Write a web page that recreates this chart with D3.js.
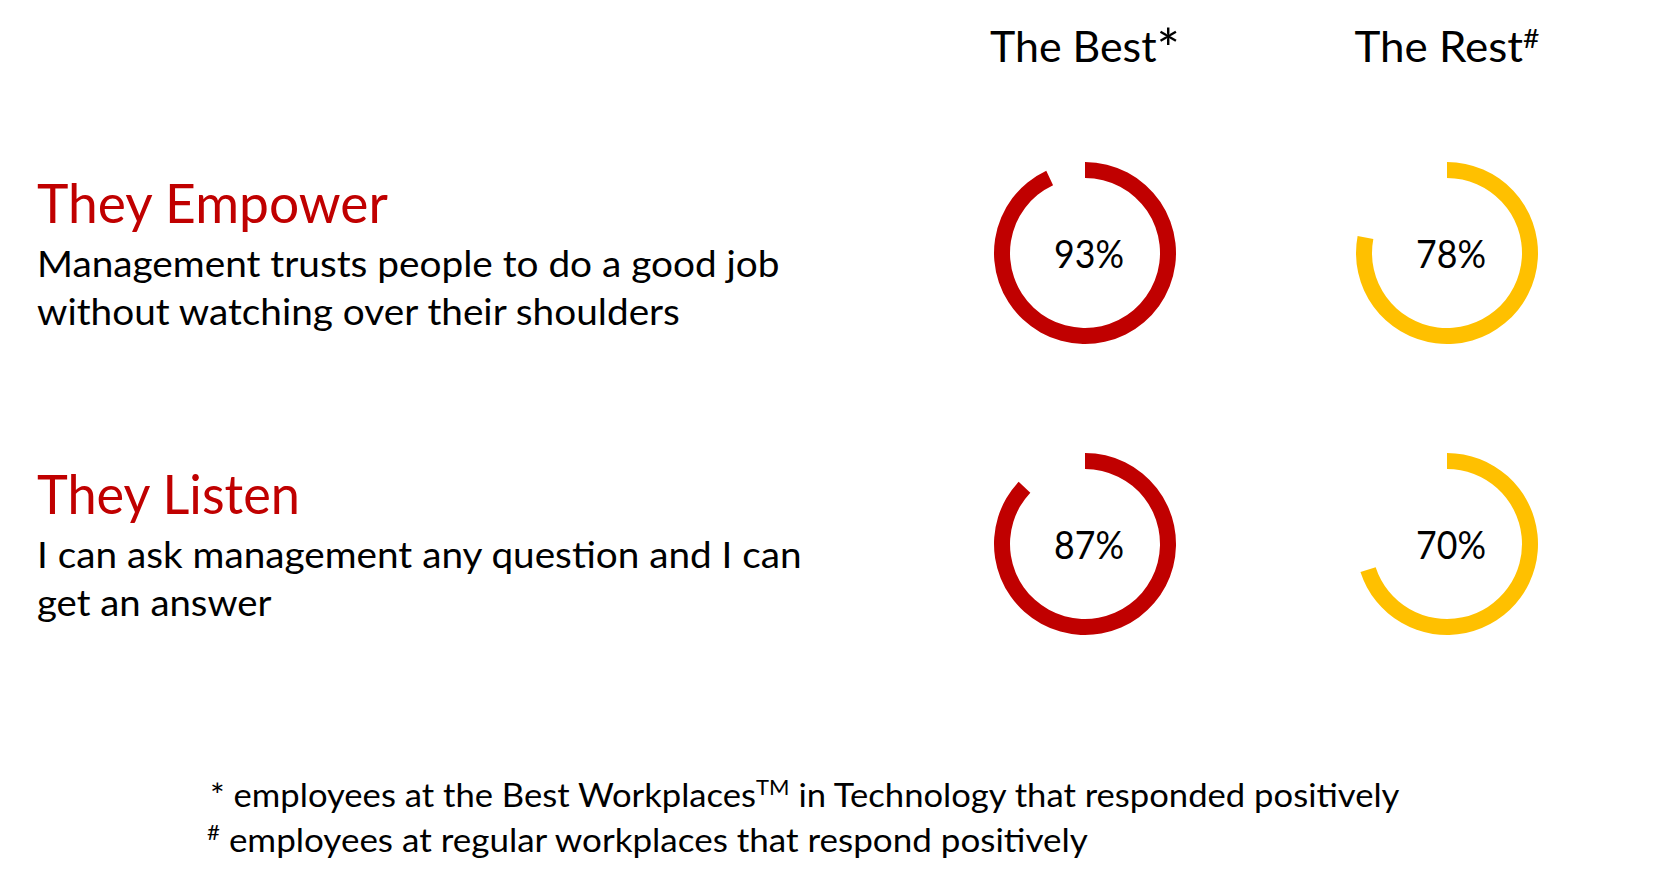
<!DOCTYPE html>
<html>
<head>
<meta charset="utf-8">
<script src="https://cdn.jsdelivr.net/npm/d3@7"></script>
<style>
  html, body { margin: 0; padding: 0; background: #ffffff; }
  svg { display: block; }
  text { font-family: Lato, "Open Sans", sans-serif; }
</style>
</head>
<body>
<svg id="chart" width="1654" height="886"></svg>
<script>
// ---- data ----
const groups = ["The Best", "The Rest"];
const groupMarks = ["*", "#"];
const categories = ["They Empower", "They Listen"];
const descriptions = [
  ["Management trusts people to do a good job", "without watching over their shoulders"],
  ["I can ask management any question and I can", "get an answer"]
];
const bestValues = [93, 87];
const restValues = [78, 70];
const footnoteBest = ["* employees at the Best Workplaces", "TM", " in Technology that responded positively"];
const footnoteRest = ["#", " employees at regular workplaces that respond positively"];

function draw() {
  const svg = d3.select("#chart");
  const RED = "#C00000", YELLOW = "#FFC000";
  const colors = d3.scaleOrdinal().domain(groups).range([RED, YELLOW]);

  const x = d3.scalePoint().domain(groups).range([1085, 1447]);
  const y = d3.scalePoint().domain(categories).range([253, 544]);
  const angle = d3.scaleLinear().domain([0, 100]).range([0, 2 * Math.PI]);
  const arc = d3.arc().innerRadius(75).outerRadius(91).startAngle(0);

  // helper: squeeze text horizontally to a target width around anchor x
  function fit(sel, ax, target) {
    const w = sel.node().getBBox().width;
    const k = target / w;
    sel.attr("transform", `translate(${ax},0) scale(${k},1) translate(${-ax},0)`);
  }

  // column headers
  groups.forEach((g, i) => {
    const t = svg.append("text")
      .attr("x", x(g)).attr("y", 62)
      .attr("text-anchor", "middle")
      .attr("font-size", 42).attr("fill", "#000");
    t.append("tspan").text(g);
    if (i === 0) {
      t.append("tspan").attr("font-size", 54).attr("dy", 6).text(groupMarks[i]);
    } else {
      t.append("tspan").attr("font-size", 27).attr("dy", -14).text(groupMarks[i]);
    }
    fit(t, x(g), i === 0 ? 190 : 185);
  });

  // category titles and descriptions
  const titleW = [351, 263];
  const descW = [[743, 643], [765, 235]];
  categories.forEach((c, i) => {
    const base = y(c) - 30;
    const t = svg.append("text")
      .attr("x", 37).attr("y", base)
      .attr("font-size", 55).attr("fill", RED).text(c);
    fit(t, 37, titleW[i]);
    descriptions[i].forEach((line, j) => {
      const d = svg.append("text")
        .attr("x", 37).attr("y", base + 54 + j * 48)
        .attr("font-size", 37).attr("fill", "#000").text(line);
      fit(d, 37, descW[i][j]);
    });
  });

  // donuts
  const rows = categories.map((c, i) => [
    { cat: c, group: groups[0], value: bestValues[i] },
    { cat: c, group: groups[1], value: restValues[i] }
  ]).flat();

  const g = svg.selectAll("g.donut").data(rows).enter().append("g")
    .attr("class", "donut")
    .attr("transform", d => `translate(${x(d.group)},${y(d.cat)})`);

  g.append("path")
    .attr("d", d => arc({ endAngle: angle(d.value) }))
    .attr("fill", d => colors(d.group));

  g.append("text")
    .attr("text-anchor", "middle")
    .attr("x", 4)
    .attr("y", 15)
    .attr("font-size", 38)
    .attr("fill", "#000")
    .text(d => d.value + "%")
    .each(function () { fit(d3.select(this), 4, 70); });

  // footnotes
  const f1 = svg.append("text").attr("x", 210).attr("y", 807)
    .attr("font-size", 33).attr("fill", "#000");
  f1.append("tspan").text(footnoteBest[0]);
  f1.append("tspan").attr("font-size", 21).attr("dy", -12).text(footnoteBest[1]);
  f1.append("tspan").attr("dy", 12).text(footnoteBest[2]);
  fit(f1, 210, 1190);

  const f2 = svg.append("text").attr("x", 207).attr("y", 852)
    .attr("font-size", 33).attr("fill", "#000");
  f2.append("tspan").attr("font-size", 21).attr("dy", -12).text(footnoteRest[0]);
  f2.append("tspan").attr("dy", 12).text(footnoteRest[1]);
  fit(f2, 207, 881);
}

if (document.fonts && document.fonts.ready) {
  document.fonts.ready.then(draw);
} else {
  draw();
}
</script>
</body>
</html>
